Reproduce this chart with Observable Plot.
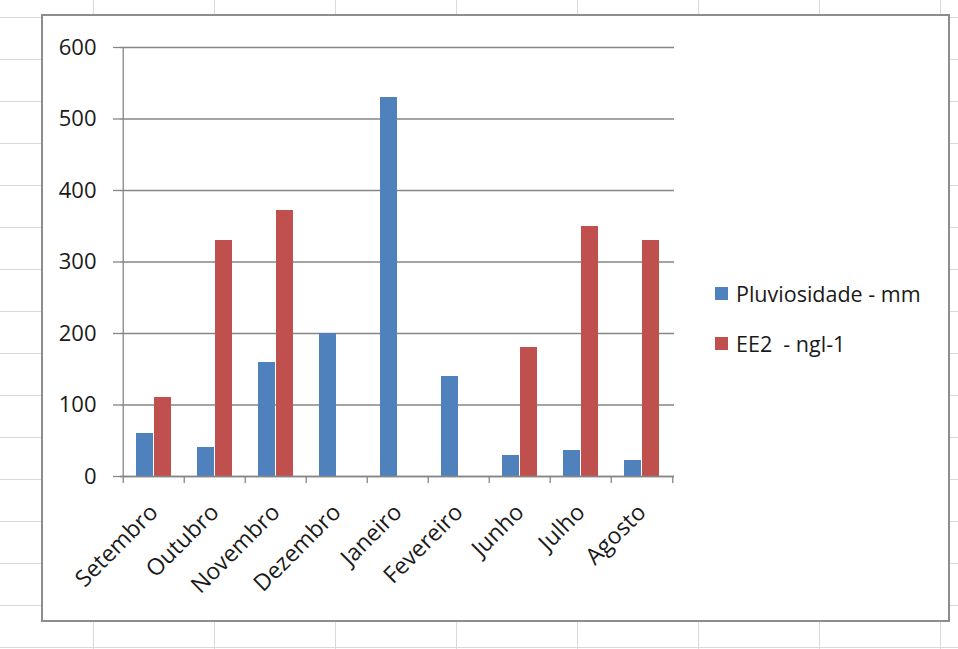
<!DOCTYPE html>
<html>
<head>
<meta charset="utf-8">
<script src="https://cdn.jsdelivr.net/npm/d3@7"></script>
<script src="https://cdn.jsdelivr.net/npm/@observablehq/plot@0.6"></script>
<style>
  html, body { margin: 0; padding: 0; background: #fff; }
  #sheet {
    position: relative; width: 958px; height: 649px; overflow: hidden;
    background-color: #fff;
    background-image:
      linear-gradient(to right, #d9d9d9 1px, transparent 1px),
      linear-gradient(to bottom, #d9d9d9 1px, transparent 1px);
    background-size: 121px 42px;
    background-position: 93px 17px;
  }
  #chart {
    position: absolute; left: 41px; top: 14px; width: 909px; height: 608px;
    box-sizing: border-box; background: #fff; border: 2px solid #8d8d8d;
  }
  #plot { position: absolute; left: 0; top: 0; }
  #legend { position: absolute; left: 672px; top: 262px; font-family: "Open Sans", sans-serif; font-size: 21.5px; color: #1a1a1a; }
  .item { display: flex; align-items: center; height: 30px; margin-bottom: 20px; white-space: pre; }
  .swatch { width: 13px; height: 13px; margin-right: 8px; }
</style>
</head>
<body>
<div id="sheet">
  <div id="chart">
    <div id="plot"></div>
    <div id="legend"></div>
  </div>
</div>
<script>
// Monthly rainfall and EE2 concentration
const months = ["Setembro", "Outubro", "Novembro", "Dezembro", "Janeiro", "Fevereiro", "Junho", "Julho", "Agosto"];
const pluviosidade = [60, 40, 160, 200, 530, 140, 30, 36, 22];
const ee2 = [110, 330, 372, null, null, null, 180, 350, 330];
const yTicks = [0, 100, 200, 300, 400, 500, 600];
const seriesNames = ["Pluviosidade - mm", "EE2  - ngl-1"];
const seriesColors = ["#4F81BD", "#C0504D"];

const width = 640, height = 604;
const marginLeft = 77, marginRight = 9, marginTop = 31, marginBottom = 144;
const plotH = height - marginTop - marginBottom;
const step = (width - marginLeft - marginRight) / months.length;
const barW = step / 3.5;          // gap width of 150% between clusters
const halfGap = (step - 2 * barW) / 2;
const axisColor = "#868686";

const pluvRows = months.map((m, i) => ({month: m, value: pluviosidade[i]}));
const ee2Rows = months.map((m, i) => ({month: m, value: ee2[i]})).filter(d => d.value != null);

const chart = Plot.plot({
  width, height, marginLeft, marginRight, marginTop, marginBottom,
  style: {fontFamily: "Open Sans, sans-serif", fontSize: "22px", color: "#1a1a1a", background: "transparent", overflow: "visible"},
  x: {domain: months, padding: 0},
  y: {domain: [0, 600]},
  marks: [
    Plot.gridY(yTicks, {stroke: axisColor, strokeOpacity: 1, strokeWidth: 1.3}),
    Plot.axisY({ticks: yTicks, tickSize: 7, tickPadding: 17, stroke: axisColor, strokeOpacity: 1, strokeWidth: 1.3, label: null, fill: "#1a1a1a"}),
    // clustered columns: blue on the left half of each cluster, red on the right
    Plot.barY(pluvRows, {x: "month", y: "value", fill: seriesColors[0], shapeRendering: "crispEdges", insetLeft: halfGap, insetRight: halfGap + barW}),
    Plot.barY(ee2Rows, {x: "month", y: "value", fill: seriesColors[1], shapeRendering: "crispEdges", insetLeft: halfGap + barW, insetRight: halfGap}),
    // value axis line
    Plot.ruleX([months[0]], {dx: -step / 2, stroke: axisColor, strokeWidth: 1.3}),
    // category boundary tick marks
    Plot.ruleX(months, {dx: -step / 2, insetTop: plotH, insetBottom: -7, stroke: axisColor, strokeWidth: 1.3}),
    Plot.ruleX([months[months.length - 1]], {dx: step / 2, insetTop: plotH, insetBottom: -7, stroke: axisColor, strokeWidth: 1.3}),
    Plot.ruleY([0], {stroke: axisColor, strokeWidth: 1.3}),
    Plot.axisX({tickSize: 0, tickRotate: -45, tickPadding: 20, dy: 12, fontSize: 23, label: null, fill: "#1a1a1a"})
  ]
});
document.getElementById("plot").append(chart);

const legend = document.getElementById("legend");
seriesNames.forEach((name, i) => {
  const item = document.createElement("div");
  item.className = "item";
  const sw = document.createElement("span");
  sw.className = "swatch";
  sw.style.background = seriesColors[i];
  item.append(sw, document.createTextNode(name));
  legend.append(item);
});
</script>
</body>
</html>
